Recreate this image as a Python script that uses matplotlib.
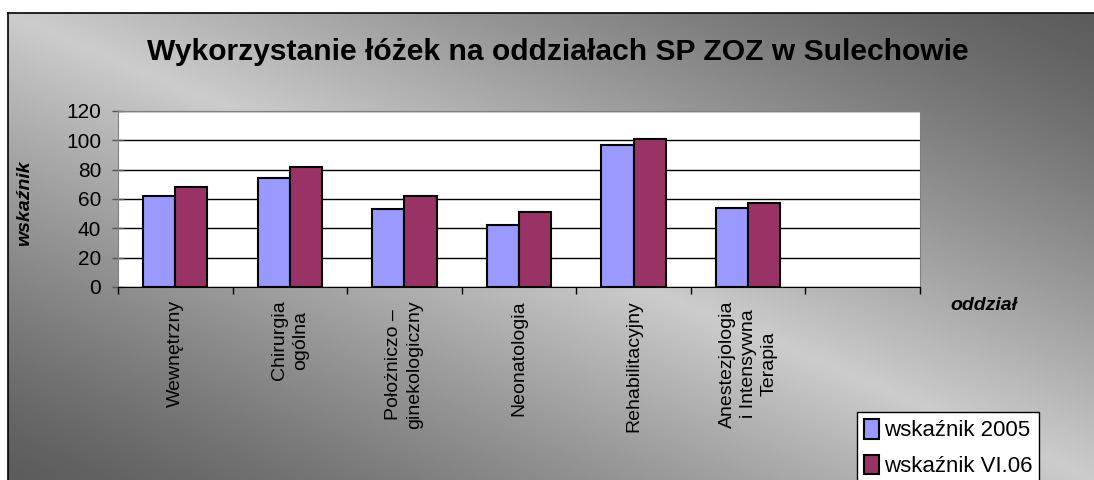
import numpy as np
import matplotlib.pyplot as plt

plt.rcParams['font.family'] = ['Liberation Sans', 'DejaVu Sans']

# dane z wykresu
oddzialy = ['Wewnętrzny', 'Chirurgia\nogólna', 'Położniczo –\nginekologiczny',
            'Neonatologia', 'Rehabilitacyjny', 'Anestezjologia\ni Intensywna\nTerapia']
wskaznik_2005 = [62, 74, 53, 42, 97, 54]
wskaznik_vi06 = [68, 82, 62, 51, 101, 57]
yticks = [0, 20, 40, 60, 80, 100, 120]

fig = plt.figure(figsize=(10.94, 4.80), dpi=100)

# tlo z gradientem (ciemne rogi: lewy dol i prawy gora)
bg = fig.add_axes([8 / 1094, 0, 1 - 8 / 1094, 1 - 13 / 480])
h, w = 200, 400
xx, yy = np.meshgrid(np.linspace(0, 1, w), np.linspace(0, 1, h))
t = (xx + yy) / 2  # 0 lewy dol, 1 prawy gora
shade = 0.36 + 0.44 * (1 - np.abs(t - 0.5) * 2) ** 1.2
bg.imshow(shade, cmap='gray', vmin=0, vmax=1, origin='lower', aspect='auto',
          extent=[0, 1, 0, 1])
bg.set_xticks([])
bg.set_yticks([])
for s in ['right', 'bottom']:
    bg.spines[s].set_visible(False)
for s in ['left', 'top']:
    bg.spines[s].set_color('black')
    bg.spines[s].set_linewidth(1.2)

ax = fig.add_axes([118 / 1094, 1 - 287 / 480, (920 - 118) / 1094, (287 - 111) / 480])
ax.set_facecolor('white')

x = np.arange(len(oddzialy))
bw = 0.28
ax.bar(x - bw / 2, wskaznik_2005, bw, color='#9999FF', edgecolor='black',
       linewidth=1.5, label='wskaźnik 2005', zorder=3)
ax.bar(x + bw / 2, wskaznik_vi06, bw, color='#993366', edgecolor='black',
       linewidth=1.5, label='wskaźnik VI.06', zorder=3)

ax.set_xlim(-0.5, 6.5)
ax.set_ylim(0, 120)
ax.set_yticks(yticks)
ax.tick_params(axis='y', labelsize=15, direction='inout', length=8, width=1,
               color='#555555', pad=8)
ax.grid(axis='y', color='black', linewidth=1, zorder=0)

# podzialki osi x na granicach kategorii
ax.set_xticks(np.arange(-0.5, 7.0, 1.0))
ax.set_xticklabels([])
ax.tick_params(axis='x', direction='out', length=5, width=1)
for i, lab in enumerate(oddzialy):
    ax.text(i, -9, lab, rotation=90, ha='center', va='top', fontsize=14,
            multialignment='center', linespacing=1.3)

for s in ['top', 'right', 'left']:
    ax.spines[s].set_color('#808080')
ax.spines['bottom'].set_color('black')

fig.text(558 / 1094, 1 - 52 / 480, 'Wykorzystanie łóżek na oddziałach SP ZOZ w Sulechowie',
         ha='center', va='center', fontsize=21.6, fontweight='bold')
fig.text(25 / 1094, 1 - 203 / 480, 'wskaźnik', rotation=90, ha='center', va='center',
         fontsize=14, fontweight='bold', fontstyle='italic')
fig.text(984 / 1094, 1 - 305 / 480, 'oddział', ha='center', va='center',
         fontsize=14, fontweight='bold', fontstyle='italic')

leg = fig.legend(loc='upper left', bbox_to_anchor=(857 / 1094, 1 - 412 / 480),
                 fontsize=16, frameon=True, fancybox=False, edgecolor='black',
                 framealpha=1, borderaxespad=0, handlelength=0.7, handleheight=1.0,
                 handletextpad=0.2, labelspacing=0.6, borderpad=0.3)
leg.get_frame().set_linewidth(1)

plt.savefig('out.png', dpi=100)
